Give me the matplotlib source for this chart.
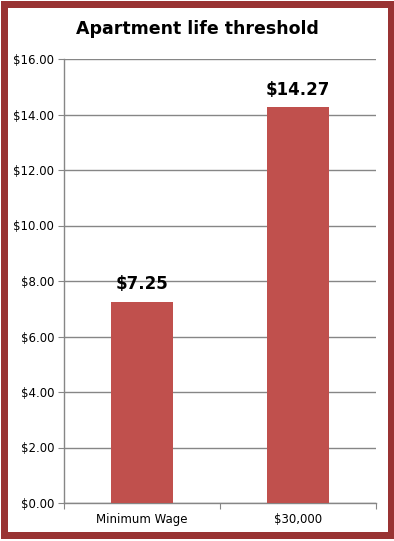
import matplotlib
matplotlib.use('Agg')
import matplotlib.pyplot as plt
from matplotlib.patches import Rectangle

categories = ['Minimum Wage', '$30,000']
values = [7.25, 14.27]
yticks = [0, 2, 4, 6, 8, 10, 12, 14, 16]

W, H = 394, 541
fig = plt.figure(figsize=(W / 100, H / 100), dpi=100)
fig.patch.set_facecolor('white')

ax = fig.add_axes([64 / W, 1 - 503 / H, (376 - 64) / W, (503 - 59) / H])
x = range(len(categories))
ax.bar(x, values, width=0.4, color='#C0504D', zorder=3)

ax.set_xlim(-0.5, 1.5)
ax.set_ylim(0, 16)
ax.set_yticks(yticks)
ax.set_yticklabels(['${:.2f}'.format(v) for v in yticks], fontsize=8.5)
ax.set_xticks([-0.5, 0.5, 1.5], minor=False)
ax.set_xticklabels([])
ax.set_xticks(list(x), minor=True)
ax.set_xticklabels(categories, minor=True, fontsize=8.5)
ax.tick_params(axis='x', which='minor', length=0, pad=7)
ax.tick_params(axis='x', which='major', length=4, direction='out', color='#868686')
ax.tick_params(axis='y', length=4, direction='out', color='#868686', pad=3)
ax.grid(axis='y', color='#868686', linewidth=1, zorder=0)
for s in ['top', 'right']:
    ax.spines[s].set_visible(False)
for s in ['left', 'bottom']:
    ax.spines[s].set_color('#868686')
    ax.spines[s].set_linewidth(1)

for xi, v in zip(x, values):
    ax.text(xi, v + 0.3, '${:.2f}'.format(v), ha='center', va='bottom',
            fontsize=12, fontweight='bold')

fig.text(0.5, 1 - 29 / H, 'Apartment life threshold', ha='center', va='center',
         fontsize=12.5, fontweight='bold')

# dark red frame round the chart
fig.patches.append(Rectangle((3.5 / W, 1 - 534.5 / H), 1 - 7 / W, (534.5 - 3.5) / H,
                             transform=fig.transFigure, fill=False,
                             edgecolor='#993333', linewidth=5.04))

fig.savefig('out.png', dpi=100)
